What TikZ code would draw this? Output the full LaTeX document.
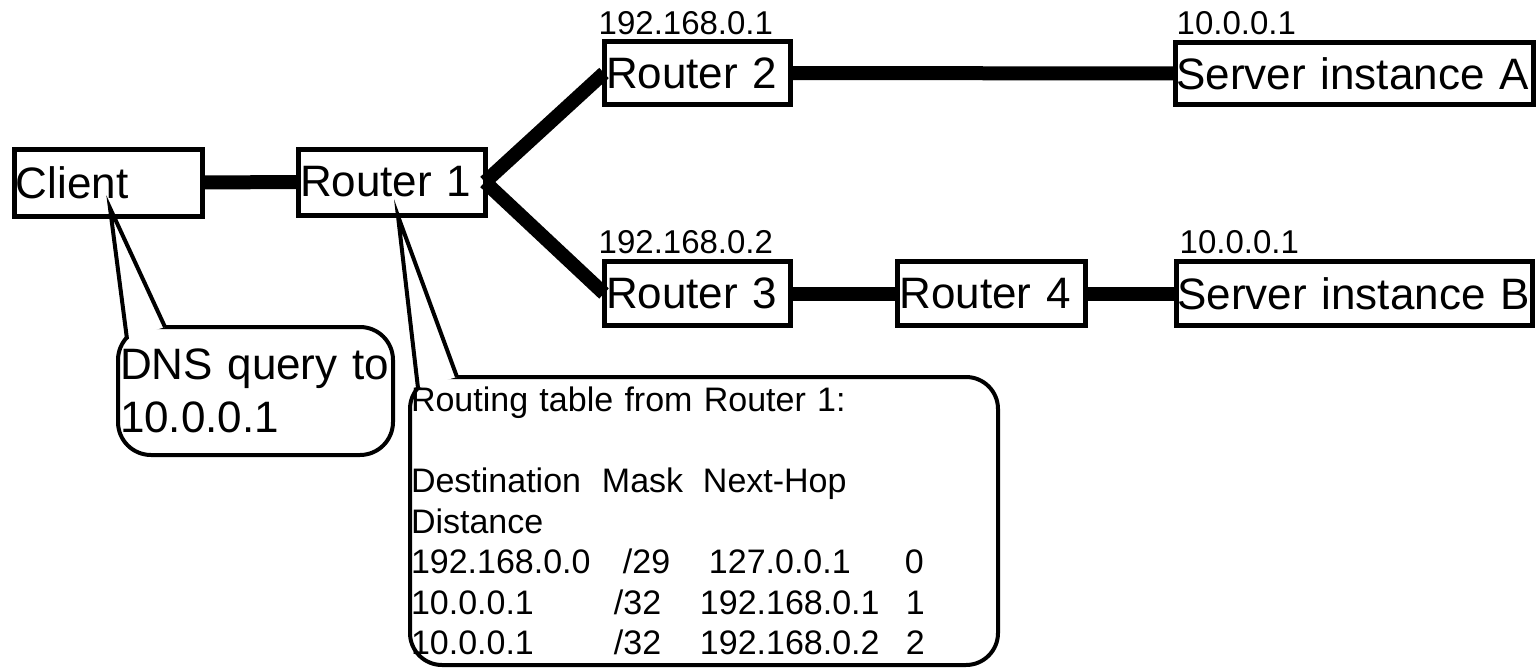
\documentclass[tikz,border=0pt]{standalone}
\usepackage{fontspec}
\setmainfont{Liberation Sans}
\usetikzlibrary{calc}
\newcommand{\netfont}{\fontsize{44}{53}\selectfont}
\newcommand{\addrfont}{\fontsize{33}{40}\selectfont}
\newcommand{\rtabfont}{\fontsize{34}{40.5}\selectfont}
\tikzset{
netbox/.style={draw, line width=5pt, anchor=north west, outer sep=0pt, inner xsep=2pt, inner ysep=0pt, align=left, font=\netfont},
addr/.style={anchor=base west, inner sep=0pt, font=\addrfont},
link/.style={line width=14pt},
notebox/.style={draw, line width=4pt, rounded corners=32pt, anchor=north west, outer sep=0pt, inner ysep=0pt, align=left},
pointer/.style={line width=4pt, line join=miter}
}

\begin{document}
\begin{tikzpicture}[x=1pt,y=-1pt]
\useasboundingbox (0,0) rectangle (1536,669);
\node[netbox, text width=184pt, minimum height=67pt] (client) at (14,149) {Client};
\node[netbox, text width=183pt, minimum height=66pt] (r1) at (298,149) {Router 1};
\node[netbox, text width=182pt, minimum height=63pt] (r2) at (604,41.5) {Router 2};
\node[netbox, text width=182pt, minimum height=64pt] (r3) at (604,261.5) {Router 3};
\node[netbox, text width=184pt, minimum height=64pt] (r4) at (897.5,261.5) {Router 4};
\node[netbox, inner xsep=1pt, text width=356pt, minimum height=62pt] (srva) at (1175.5,42.5) {Server instance A};
\node[netbox, inner xsep=1pt, text width=354pt, minimum height=64pt] (srvb) at (1176.5,261.5) {Server instance B};
\node[addr] (ipr2) at (598.5,35) {192.168.0.1};
\node[addr] (ipr3) at (598.5,253) {192.168.0.2};
\node[addr] (ipa) at (1176.5,35) {10.0.0.1};
\node[addr] (ipb) at (1179.5,253) {10.0.0.1};
\draw[link] (client.east) -- (r1.west);
\draw[link] (r1.east) -- (r2.west);
\draw[link] (r1.east) -- (r3.west);
\draw[link] (r2.east) -- (srva.west);
\draw[link] (r3.east) -- (r4.west);
\draw[link] (r4.east) -- (srvb.west);
\node[notebox, rounded corners=33pt, minimum width=275pt, minimum height=128pt, text width=271pt, inner xsep=2pt, font=\netfont] (dnsnote) at (118,327) {DNS query to\\10.0.0.1};
\node[notebox, minimum width=588pt, minimum height=288pt, text width=586pt, inner xsep=1pt, font=\rtabfont] (rtable) at (410,377) {Routing table from Router 1:\\[40.5pt]
\makebox[191pt][l]{Destination}\makebox[101pt][l]{Mask}Next-Hop\\
Distance\\
\makebox[212pt][l]{192.168.0.0}\makebox[86pt][l]{/29}\makebox[196pt][l]{127.0.0.1}0\\
\makebox[203pt][l]{10.0.0.1}\makebox[86pt][l]{/32}\makebox[206pt][l]{192.168.0.1}1\\
\makebox[203pt][l]{10.0.0.1}\makebox[86pt][l]{/32}\makebox[206pt][l]{192.168.0.2}2};
\coordinate (dnstip) at (110,208);
\coordinate (dnsa) at ([xshift=9pt,yshift=-12pt]dnsnote.north west);
\coordinate (dnsb) at ([xshift=47pt]dnsnote.north west);
\fill[white] (dnsa) -- ($(dnstip)!0.75!(dnsa)$) -- ($(dnstip)!0.75!(dnsb)$) -- (dnsb) -- cycle;
\draw[pointer] (dnsa) -- (dnstip) -- (dnsb);
\coordinate (rtip) at (398,216);
\coordinate (rta) at ([xshift=8pt,yshift=-11pt]rtable.north west);
\coordinate (rtb) at ([xshift=47pt]rtable.north west);
\fill[white] (rta) -- ($(rtip)!0.8!(rta)$) -- ($(rtip)!0.8!(rtb)$) -- (rtb) -- cycle;
\draw[pointer] (rta) -- (rtip) -- (rtb);
\end{tikzpicture}
\end{document}
